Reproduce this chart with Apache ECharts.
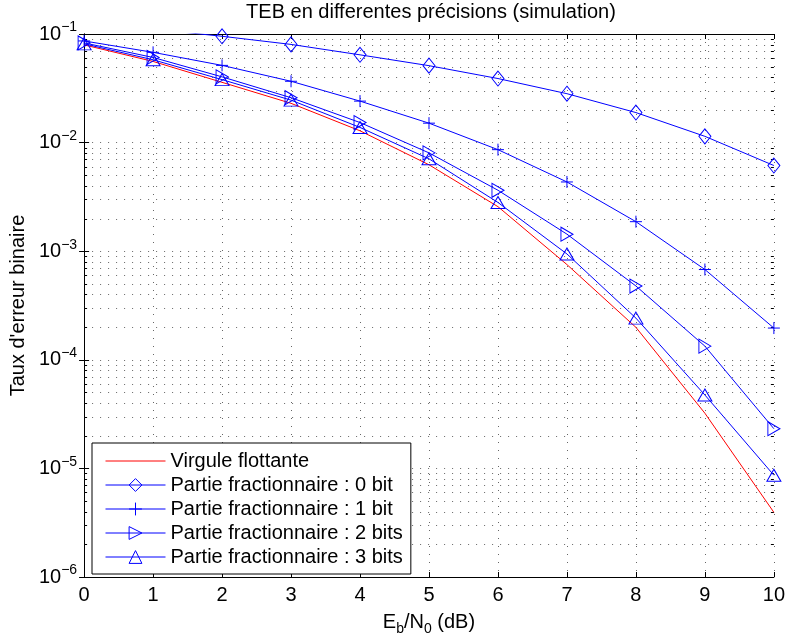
<!DOCTYPE html>
<html><head><meta charset="utf-8">
<script src="https://cdn.jsdelivr.net/npm/echarts@6/dist/echarts.min.js"></script>
<style>html,body{margin:0;padding:0;background:#fff}#c{width:788px;height:641px}</style>
</head><body><div id="c"></div>
<script>
// ---- data ----
const ebn0 = [0, 1, 2, 3, 4, 5, 6, 7, 8, 9, 10];
const virguleFlottante = [0.0794, 0.0559, 0.0359, 0.0230, 0.01284, 0.00625, 0.00257, 0.000753, 0.000199, 3.22e-5, 3.94e-6];
const frac0bit  = [0.126, 0.111, 0.0953, 0.0802, 0.0643, 0.0511, 0.0389, 0.0282, 0.0189, 0.01142, 0.00615];
const frac1bit  = [0.0863, 0.0678, 0.0514, 0.0367, 0.0241, 0.0151, 0.00861, 0.00434, 0.00187, 0.000678, 0.000196];
const frac2bits = [0.0828, 0.0608, 0.0403, 0.0259, 0.0153, 0.00804, 0.00364, 0.001435, 0.000478, 0.0001336, 2.32e-5];
const frac3bits = [0.0811, 0.0579, 0.0380, 0.0246, 0.01379, 0.00709, 0.00281, 0.000943, 0.000242, 4.74e-5, 8.65e-6];
const seriesNames = ['Virgule flottante', 'Partie fractionnaire : 0 bit', 'Partie fractionnaire : 1 bit', 'Partie fractionnaire : 2 bits', 'Partie fractionnaire : 3 bits'];
const yDecades = [1e-6, 1e-5, 1e-4, 1e-3, 1e-2, 1e-1];
const minorMantissas = [2, 3, 4, 5, 6, 7, 8, 9];
const titleText = 'TEB en differentes précisions (simulation)';
const yName = "Taux d'erreur binaire";

// ---- build ----
const FONT = '"Liberation Sans", Arial, Helvetica, sans-serif';
const BLUE = '#0000ff', RED = '#ff0000';
const GRIDC = '#666';
const DASH = [1, 7];
const minorValues = [];
for (let i = 0; i < yDecades.length - 1; i++) for (const m of minorMantissas) minorValues.push(m * yDecades[i]);

function pairs(arr) { return ebn0.map((x, i) => [x, arr[i]]); }
function blueSeries(name, arr, symbol, size, rotate) {
  return {
    type: 'line', name, data: pairs(arr), symbol, symbolSize: size, symbolRotate: rotate || 0,
    showSymbol: true, showAllSymbol: true, clip: true, z: 3,
    lineStyle: { color: BLUE, width: 1 },
    itemStyle: { color: 'rgba(0,0,0,0)', borderColor: BLUE, borderWidth: 1 },
    emphasis: { disabled: true }, silent: true
  };
}
const chart = echarts.init(document.getElementById('c'), null, { renderer: 'canvas' });
const supMinus = '\u2212';
chart.setOption({
  animation: false,
  backgroundColor: '#fff',
  textStyle: { fontFamily: FONT },
  title: { text: titleText, left: 431, top: 2, padding: 0, textAlign: 'center',
    textStyle: { fontSize: 20, fontWeight: 'normal', color: '#000', fontFamily: FONT } },
  grid: { left: 83, top: 34, right: 9, bottom: 59, containLabel: false },
  legend: {
    orient: 'vertical', left: 92, top: 443, itemWidth: 60, itemHeight: 16, itemGap: 4,
    padding: [8, 8, 7, 13], backgroundColor: '#fff', borderColor: '#000', borderWidth: 1,
    selectedMode: false,
    lineStyle: { width: 1 },
    itemStyle: { borderWidth: 1 },
    data: [
      { name: seriesNames[0], itemStyle: { color: 'rgba(0,0,0,0)', borderWidth: 0, opacity: 0 } },
      seriesNames[1], seriesNames[2], seriesNames[3], seriesNames[4]
    ],
    textStyle: { fontSize: 20, color: '#000', fontFamily: FONT }
  },
  xAxis: [{
    type: 'value', min: 0, max: 10, interval: 1, position: 'bottom',
    axisLine: { lineStyle: { color: '#000', width: 1 } },
    axisTick: { inside: true, length: 5, lineStyle: { color: '#000' } },
    axisLabel: { fontSize: 20, color: '#000', margin: 8, fontFamily: FONT },
    splitLine: { show: true, lineStyle: { color: GRIDC, type: DASH, width: 1 } },
    name: '{n|E}{s|b}{n|/N}{s|0}{n| (dB)}', nameLocation: 'middle', nameGap: 32,
    nameTextStyle: { rich: {
      n: { fontSize: 20, color: '#000', fontFamily: FONT },
      s: { fontSize: 14, color: '#000', fontFamily: FONT, padding: [13, 0, 0, 0] } } }
  }, {
    type: 'value', min: 0, max: 10, interval: 1, position: 'top',
    axisLine: { show: true, lineStyle: { color: '#000', width: 1 } },
    axisTick: { show: true, inside: true, length: 5, lineStyle: { color: '#000' } },
    axisLabel: { show: false }, splitLine: { show: false }
  }],
  yAxis: [{
    type: 'log', logBase: 10, min: 1e-6, max: 1e-1, position: 'left',
    axisLine: { show: true, lineStyle: { color: '#000', width: 1 } },
    axisTick: { show: true, inside: true, length: 5, lineStyle: { color: '#000' } },
    axisLabel: {
      margin: 7, color: '#000',
      formatter: v => '{b|10}{s|' + supMinus + Math.round(-Math.log10(v)) + '}',
      rich: {
        b: { fontSize: 20, color: '#000', fontFamily: FONT },
        s: { fontSize: 14, color: '#000', fontFamily: FONT, padding: [0, 0, 13, 0] }
      }
    },
    splitLine: { show: true, lineStyle: { color: GRIDC, type: DASH, width: 1 } },
    name: yName, nameLocation: 'middle', nameGap: 53, nameRotate: 90,
    nameTextStyle: { fontSize: 20, color: '#000', fontFamily: FONT }
  }, {
    type: 'log', logBase: 10, min: 1e-6, max: 1e-1, position: 'right',
    axisLine: { show: true, lineStyle: { color: '#000', width: 1 } },
    axisTick: { show: true, inside: true, length: 5, lineStyle: { color: '#000' } },
    axisLabel: { show: false }, splitLine: { show: false }
  }],
  series: [
    {
      type: 'custom', name: 'minorGrid', coordinateSystem: 'cartesian2d', silent: true, z: 1, clip: false,
      data: minorValues.map(v => [0, v]), encode: { x: 0, y: 1 },
      renderItem: function (params, api) {
        const p = api.coord([0, api.value(1)]);
        const cs = params.coordSys;
        const y = Math.round(p[1]) + 0.5;
        return { type: 'group', children: [
          { type: 'line', shape: { x1: cs.x, y1: y, x2: cs.x + cs.width, y2: y },
            style: { stroke: GRIDC, lineWidth: 1, lineDash: DASH } },
          { type: 'line', shape: { x1: cs.x, y1: y, x2: cs.x + 3, y2: y }, style: { stroke: '#000', lineWidth: 1 } },
          { type: 'line', shape: { x1: cs.x + cs.width - 3, y1: y, x2: cs.x + cs.width, y2: y }, style: { stroke: '#000', lineWidth: 1 } }
        ] };
      }
    },
    {
      type: 'line', name: seriesNames[0], data: pairs(virguleFlottante), symbol: 'none', clip: true, z: 3,
      lineStyle: { color: RED, width: 1 }, itemStyle: { color: 'rgba(0,0,0,0)', borderWidth: 0 },
      emphasis: { disabled: true }, silent: true
    },
    blueSeries(seriesNames[1], frac0bit, 'diamond', [12, 15]),
    blueSeries(seriesNames[2], frac1bit, 'path://M5,0L5,10M0,5L10,5', [12, 12]),
    blueSeries(seriesNames[3], frac2bits, 'triangle', [14, 12], -90),
    blueSeries(seriesNames[4], frac3bits, 'triangle', [14, 12])
  ]
});
</script></body></html>
